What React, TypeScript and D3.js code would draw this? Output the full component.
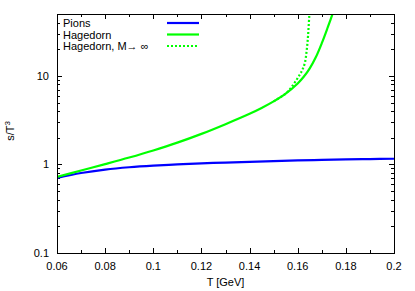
import React, { useEffect, useRef } from 'react';
import * as d3 from 'd3';

// pion gas, s/T^3
const pionT = [0.06, 0.07, 0.08, 0.09, 0.1, 0.11, 0.12, 0.13, 0.14, 0.15, 0.16, 0.17, 0.18, 0.19, 0.2];
const pionS = [0.705, 0.80, 0.875, 0.93, 0.97, 1.0, 1.03, 1.05, 1.07, 1.09, 1.11, 1.125, 1.14, 1.15, 1.16];

// Hagedorn spectrum (finite M)
const hagT = [0.06, 0.07, 0.08, 0.09, 0.1, 0.11, 0.12, 0.13, 0.14, 0.145, 0.15, 0.155, 0.16, 0.1625, 0.165, 0.1675, 0.17, 0.1725, 0.175];
const hagS = [0.724, 0.855, 1.009, 1.197, 1.439, 1.762, 2.213, 2.851, 3.733, 4.345, 5.152, 6.31, 8.22, 9.77, 12.16, 16.2, 23.4, 35.5, 55.0];

// Hagedorn, M -> infinity
const hagInfT = [0.15, 0.155, 0.157, 0.159, 0.161, 0.162, 0.163, 0.1637, 0.1642, 0.1645, 0.1648, 0.165];
const hagInfS = [5.152, 6.31, 7.2, 8.6, 10.5, 11.8, 14.1, 19.1, 26.3, 34.7, 47.9, 60];

const xTicks = [0.06, 0.08, 0.1, 0.12, 0.14, 0.16, 0.18, 0.2];
const xMinor = [0.07, 0.09, 0.11, 0.13, 0.15, 0.17, 0.19];
const yTicks = [0.1, 1, 10];
const yTickLabels = ['0.1', '1', '10'];

const legendNames = ['Pions', 'Hagedorn', 'Hagedorn, M\u2192 \u221e'];
const legendColors = ['#0000ff', '#00ff00', '#00ff00'];
const legendDash = ['', '', '2,2'];

const W = 415, H = 291;
const margin = { top: 14, right: 21, bottom: 38, left: 57 };
const font = '"Liberation Sans", Arial, sans-serif';

export default function App() {
  const ref = useRef<SVGSVGElement>(null);

  useEffect(() => {
    const svg = d3.select(ref.current);
    svg.selectAll('*').remove();

    const width = W - margin.left - margin.right;
    const height = H - margin.top - margin.bottom;
    const g = svg.append('g').attr('transform', 'translate(' + margin.left + ',' + margin.top + ')');

    const x = d3.scaleLinear().domain([0.06, 0.2]).range([0, width]);
    const y = d3.scaleLog().domain([0.1, 50]).range([height, 0]);

    // log minor ticks
    const yMinor: number[] = [];
    [0.1, 1, 10].forEach(function (d) {
      for (let k = 2; k <= 9; k++) if (d * k <= 50) yMinor.push(d * k);
    });

    const tickG = g.append('g').attr('stroke', '#000').attr('stroke-width', 1);
    xTicks.forEach(function (t) {
      const px = Math.round(x(t)) + 0.5;
      tickG.append('line').attr('x1', px).attr('x2', px).attr('y1', height).attr('y2', height - 5);
      tickG.append('line').attr('x1', px).attr('x2', px).attr('y1', 0).attr('y2', 5);
    });
    xMinor.forEach(function (t) {
      const px = Math.round(x(t)) + 0.5;
      tickG.append('line').attr('x1', px).attr('x2', px).attr('y1', height).attr('y2', height - 3);
      tickG.append('line').attr('x1', px).attr('x2', px).attr('y1', 0).attr('y2', 3);
    });
    yTicks.forEach(function (t) {
      const py = Math.round(y(t)) + 0.5;
      tickG.append('line').attr('x1', 0).attr('x2', 5).attr('y1', py).attr('y2', py);
      tickG.append('line').attr('x1', width).attr('x2', width - 5).attr('y1', py).attr('y2', py);
    });
    yMinor.forEach(function (t) {
      const py = Math.round(y(t)) + 0.5;
      tickG.append('line').attr('x1', 0).attr('x2', 3).attr('y1', py).attr('y2', py);
      tickG.append('line').attr('x1', width).attr('x2', width - 3).attr('y1', py).attr('y2', py);
    });

    g.selectAll('.xlab')
      .data(xTicks)
      .enter().append('text')
        .attr('x', function (d) { return x(d); })
        .attr('y', height + 17)
        .style('text-anchor', 'middle')
        .style('font', '11px ' + font)
        .text(function (d) { return String(d); });

    g.selectAll('.ylab')
      .data(yTicks)
      .enter().append('text')
        .attr('x', -8)
        .attr('y', function (d) { return y(d) + 4; })
        .style('text-anchor', 'end')
        .style('font', '11px ' + font)
        .text(function (d, i) { return yTickLabels[i]; });

    g.append('text')
      .attr('x', width / 2)
      .attr('y', height + 33)
      .style('text-anchor', 'middle')
      .style('font', '11px ' + font)
      .text('T [GeV]');

    const yl = svg.append('text')
      .attr('transform', 'translate(14,' + 131 + ') rotate(-90)')
      .style('text-anchor', 'middle')
      .style('font', '11px ' + font);
    yl.append('tspan').text('s/T');
    yl.append('tspan').attr('dy', -4).style('font-size', '8px').text('3');

    // curves
    g.append('clipPath').attr('id', 'plotclip')
      .append('rect').attr('width', width).attr('height', height);

    const line = d3.line<[number, number]>()
      .x(function (d) { return x(d[0]); })
      .y(function (d) { return y(d[1]); })
      .curve(d3.curveCatmullRom.alpha(0.5));

    const curves = g.append('g').attr('clip-path', 'url(#plotclip)').attr('fill', 'none');
    curves.append('path')
      .attr('d', line(d3.zip(pionT, pionS) as [number, number][]))
      .attr('stroke', legendColors[0]).attr('stroke-width', 2.2);
    curves.append('path')
      .attr('d', line(d3.zip(hagT, hagS) as [number, number][]))
      .attr('stroke', legendColors[1]).attr('stroke-width', 2.2);
    curves.append('path')
      .attr('d', line(d3.zip(hagInfT, hagInfS) as [number, number][]))
      .attr('stroke', legendColors[2]).attr('stroke-width', 2.2)
      .attr('stroke-dasharray', legendDash[2]);

    // border
    g.append('rect')
      .attr('x', 0.5).attr('y', 0.5)
      .attr('width', width).attr('height', height)
      .attr('fill', 'none').attr('stroke', '#000');

    // legend
    const legend = g.selectAll('.legend')
      .data(legendNames)
      .enter().append('g')
        .attr('transform', function (d, i) { return 'translate(0,' + (9 + i * 11.5) + ')'; });
    legend.append('text')
      .attr('x', 6)
      .attr('y', 4)
      .style('font', '11px ' + font)
      .text(function (d) { return d; });
    legend.append('line')
      .attr('x1', 110).attr('x2', 142)
      .attr('stroke', function (d, i) { return legendColors[i]; })
      .attr('stroke-width', 2.2)
      .attr('stroke-dasharray', function (d, i) { return legendDash[i]; });
  }, []);

  return (
    <svg ref={ref} width={W} height={H} style={{ position: 'absolute', left: 0, top: 0, background: '#fff' }} />
  );
}
